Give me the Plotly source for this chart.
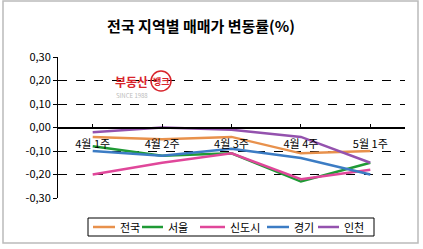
import plotly.graph_objects as go

categories = ["4월 1주", "4월 2주", "4월 3주", "4월 4주", "5월 1주"]
series_names = ["전국", "서울", "신도시", "경기", "인천"]
s_jeonguk = [-0.04, -0.05, -0.04, -0.11, -0.10]
s_seoul = [-0.08, -0.12, -0.11, -0.23, -0.15]
s_sindosi = [-0.20, -0.15, -0.11, -0.22, -0.18]
s_gyeonggi = [-0.10, -0.12, -0.09, -0.13, -0.20]
s_incheon = [-0.02, 0.00, -0.01, -0.04, -0.15]
y_tickvals = [0.30, 0.20, 0.10, 0.00, -0.10, -0.20, -0.30]
y_ticktext = ["0,30", "0,20", "0,10", "0,00", "-0,10", "-0,20", "-0,30"]

colors = ["#E8914C", "#1F9A35", "#E0479A", "#3C7CC4", "#9452AE"]
values = [s_jeonguk, s_seoul, s_sindosi, s_gyeonggi, s_incheon]

FONT = "Noto Sans CJK KR"
W, H = 423, 249
PL, PR, PT, PB = 58, 405, 57, 198
PW, PH = PR - PL, PB - PT


def px(x):
    return (x - PL) / PW


def py(y):
    return (PB - y) / PH


fig = go.Figure()
for name, vals, col in zip(series_names, values, colors):
    fig.add_trace(go.Scatter(
        x=categories, y=vals, name=name, mode="lines",
        line=dict(color=col, width=2.5), showlegend=False,
    ))

fig.update_layout(
    width=W, height=H,
    margin=dict(l=PL, r=W - PR, t=PT, b=H - PB, autoexpand=False),
    paper_bgcolor="white", plot_bgcolor="white",
    font=dict(family=FONT, size=11, color="black"),
    title=dict(text="<b>전국 지역별 매매가 변동률(%)</b>", x=201 / W, xanchor="center",
               y=1 - 27 / H, yanchor="middle",
               font=dict(family=FONT, size=15, color="black")),
    showlegend=False,
)

fig.update_xaxes(
    type="category", range=[-0.5, 4.5],
    anchor="free", position=0.5,
    showline=True, linecolor="black", linewidth=1.5,
    ticks="inside", ticklen=3, tickcolor="black",
    ticklabelstandoff=7,
    showgrid=False, zeroline=False,
    tickfont=dict(family=FONT, size=11),
)
fig.update_yaxes(
    range=[-0.30, 0.30], tickvals=y_tickvals, ticktext=y_ticktext,
    showline=True, linecolor="black", linewidth=1,
    ticks="outside", ticklen=4, tickcolor="black",
    showgrid=True, gridcolor="black", griddash="dash", gridwidth=1,
    zeroline=False,
    tickfont=dict(family=FONT, size=11),
)

# outer chart frame
fig.add_shape(type="rect", xref="paper", yref="paper",
              x0=px(3), x1=px(418), y0=py(243), y1=py(1),
              line=dict(color="#BBBBBB", width=1.5), layer="below")

# legend box (drawn to match the reference's compact legend)
fig.add_shape(type="rect", xref="paper", yref="paper",
              x0=px(88), x1=px(374), y0=py(236), y1=py(218),
              line=dict(color="black", width=1), fillcolor="white")
leg_line_x0 = [93, 142, 200, 267, 318]
leg_text_x0 = [118, 166, 228, 292, 342]
for name, col, lx, tx in zip(series_names, colors, leg_line_x0, leg_text_x0):
    fig.add_shape(type="line", xref="paper", yref="paper",
                  x0=px(lx), x1=px(tx - 3), y0=py(227), y1=py(227),
                  line=dict(color=col, width=2.5))
    fig.add_annotation(xref="paper", yref="paper", x=px(tx), y=py(227),
                       xanchor="left", yanchor="middle", text=name,
                       showarrow=False,
                       font=dict(family=FONT, size=11, color="black"))

# watermark logo
fig.add_annotation(xref="paper", yref="paper", x=px(131), y=py(81),
                   xanchor="center", yanchor="middle",
                   text="<b>부동산</b>", showarrow=False,
                   font=dict(family=FONT, size=12, color="#D8242C"))
fig.add_shape(type="circle", xref="paper", yref="paper",
              x0=px(151), x1=px(171), y0=py(91), y1=py(71),
              line=dict(color="#D8242C", width=1.5))
fig.add_annotation(xref="paper", yref="paper", x=px(161), y=py(81),
                   xanchor="center", yanchor="middle",
                   text="<b>뱅크</b>", showarrow=False,
                   font=dict(family=FONT, size=9, color="#D8242C"))
fig.add_annotation(xref="paper", yref="paper", x=px(132), y=py(95),
                   xanchor="center", yanchor="middle",
                   text="SINCE 1988", showarrow=False,
                   font=dict(family=FONT, size=6, color="#BBBBBB"))

fig.write_html("out.html")
